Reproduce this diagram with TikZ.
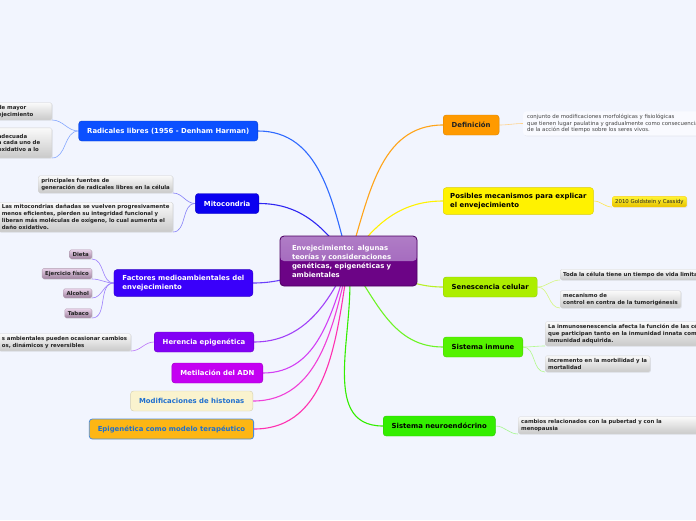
\documentclass[tikz,border=0pt]{standalone}
\usepackage{fontspec}
\setmainfont{DejaVu Sans}
\usepackage{tikz}
\usetikzlibrary{backgrounds,shadows}
\definecolor{pagebg}{HTML}{F2F5FE}
\definecolor{hubtop}{HTML}{9C5CB8}
\definecolor{hubbot}{HTML}{6C0486}
\definecolor{hubedge}{HTML}{4B0060}
\definecolor{radblue}{HTML}{0B50FF}
\definecolor{mitblue}{HTML}{0A00F0}
\definecolor{facviolet}{HTML}{3A00FA}
\definecolor{herviolet}{HTML}{8200F5}
\definecolor{metviolet}{HTML}{C400F2}
\definecolor{hisfill}{HTML}{FAF3CE}
\definecolor{hispink}{HTML}{F040D8}
\definecolor{epipink}{HTML}{FF30B0}
\definecolor{bluetext}{HTML}{1F6FCF}
\definecolor{epifill}{HTML}{FDB614}
\definecolor{deforange}{HTML}{FF9A00}
\definecolor{posyellow}{HTML}{FFF200}
\definecolor{senlime}{HTML}{ACEE00}
\definecolor{inmgreen}{HTML}{55F200}
\definecolor{neugreen}{HTML}{33EE00}
\definecolor{leaftext}{HTML}{222222}
\newcommand{\hubfont}{\fontsize{6.9}{9}\selectfont\bfseries}
\newcommand{\topicfont}{\fontsize{6.9}{9}\selectfont\bfseries}
\newcommand{\leaffont}{\fontsize{5.4}{6.8}\selectfont}
\tikzset{
  hub/.style={rounded corners=4pt, fill=hubbot, draw=hubedge, line width=0.8pt,
    minimum width=137pt, minimum height=50pt, text width=113pt, inner xsep=12pt,
    align=left, text=white, font=\hubfont,
    path picture={\shade[top color=hubtop!80!white, bottom color=hubtop]
      (path picture bounding box.north west) rectangle (path picture bounding box.east);}},
  topic/.style={rounded corners=3pt, inner xsep=8.5pt, inner ysep=5.5pt,
    minimum height=20pt, align=left, font=\topicfont, line width=0.4pt},
  leaf/.style={rounded corners=1.5pt, top color=gray!4, bottom color=gray!42,
    draw=gray!35, line width=0.3pt, inner xsep=3pt, inner ysep=2.5pt, align=left,
    font=\leaffont\bfseries, text=leaftext,
    drop shadow={opacity=0.18, shadow xshift=0.8pt, shadow yshift=-0.8pt}},
  fleaf/.style={leaf, top color=violet!18!white, bottom color=violet!30!gray!75, draw=violet!25!gray!60},
  yleaf/.style={leaf, top color=posyellow!80!white, bottom color=posyellow!75!orange!90!black,
    draw=posyellow!70!orange, font=\leaffont},
  dleaf/.style={rounded corners=3pt, fill=white!55!pagebg, inner xsep=4pt, inner ysep=2.5pt,
    align=left, font=\leaffont, text=leaftext!85,
    drop shadow={opacity=0.12, shadow xshift=0.8pt, shadow yshift=-0.8pt}},
  link/.style={line width=1.1pt},
  twig/.style={line width=0.6pt}
}
\begin{document}
\begin{tikzpicture}[x=1pt,y=1pt]
\useasboundingbox (0,0) rectangle (696,-520);
% centre
\node[hub] (hub) at (348.5,-261) {Envejecimiento: algunas\\teorías y consideraciones\\genéticas, epigenéticas y\\ambientales};
% left branches
\node[topic, anchor=east, fill=radblue, draw=radblue!80!black, text=white] (rad) at (258,-131) {Radicales libres (1956 - Denham Harman)};
\node[topic, anchor=east, fill=mitblue, draw=mitblue!80!black, text=white] (mit) at (259,-203.5) {Mitocondria};
\node[topic, anchor=east, fill=facviolet, draw=facviolet!80!black, text=white] (fac) at (253,-283) {Factores medioambientales del\\envejecimiento};
\node[topic, anchor=east, fill=herviolet, draw=herviolet!80!black, text=white] (her) at (254,-342) {Herencia epigenética};
\node[topic, anchor=east, fill=metviolet, draw=metviolet!80!black, text=white] (met) at (263,-373) {Metilación del ADN};
\node[topic, anchor=east, fill=hisfill, draw=hisfill!85!black, text=bluetext] (his) at (253,-401) {Modificaciones de histonas};
\node[topic, anchor=east, fill=epifill, draw=bluetext!80, line width=0.8pt, text=bluetext] (epi) at (254,-429) {Epigenética como modelo terapéutico};
% right branches
\node[topic, anchor=west, fill=deforange, draw=deforange!85!black, text=leaftext] (def) at (443,-125) {Definición};
\node[topic, anchor=west, fill=posyellow, draw=posyellow!85!black, text=black, inner xsep=7pt] (pos) at (443,-201) {Posibles mecanismos para explicar\\el envejecimiento};
\node[topic, anchor=west, fill=senlime, draw=senlime!85!black, text=black] (sen) at (443,-287) {Senescencia celular};
\node[topic, anchor=west, fill=inmgreen, draw=inmgreen!85!black, text=black] (inm) at (443,-347) {Sistema inmune};
\node[topic, anchor=west, fill=neugreen, draw=neugreen!85!black, text=black] (neu) at (383,-426) {Sistema neuroendócrino};
% leaves, left
\node[leaf, anchor=south east, text width=51pt] (rad1) at (52,-120) {de mayor\\ejecimiento};
\node[leaf, anchor=south east, text width=51pt, minimum height=30pt] (rad2) at (52,-158) {adecuada\\a cada uno de\\oxidativo a lo};
\node[leaf, anchor=south east] (mit1) at (173,-193) {principales fuentes de\\generación de radicales libres en la célula};
\node[leaf, anchor=south east, text width=168pt] (mit2) at (173,-232) {Las mitocondrias dañadas se vuelven progresivamente\\menos eficientes, pierden su integridad funcional y\\liberan más moléculas de oxígeno, lo cual aumenta el\\daño oxidativo.};
\node[fleaf, anchor=south east] (fac1) at (92,-259) {Dieta};
\node[fleaf, anchor=south east] (fac2) at (92,-279) {Ejercicio físico};
\node[fleaf, anchor=south east] (fac3) at (92,-298) {Alcohol};
\node[fleaf, anchor=south east] (fac4) at (92,-318) {Tabaco};
\node[leaf, anchor=south east, text width=126pt] (her1) at (131,-351) {s ambientales pueden ocasionar cambios\\os, dinámicos y reversibles};
% leaves, right
\node[dleaf, anchor=west] (def1) at (523,-123.5) {conjunto de modificaciones morfológicas y fisiológicas\\que tienen lugar paulatina y gradualmente como consecuencia\\de la acción del tiempo sobre los seres vivos.};
\node[yleaf, anchor=south west] (pos1) at (612,-207) {2010 Goldstein y Cassidy};
\node[leaf, anchor=south west, text width=190pt] (sen1) at (560,-280) {Toda la célula tiene un tiempo de vida limitado};
\node[leaf, anchor=south west] (sen2) at (560,-308) {mecanismo de\\control en contra de la tumorigénesis};
\node[leaf, anchor=south west, text width=190pt] (inm1) at (545,-346) {La inmunosenescencia afecta la función de las células\\que participan tanto en la inmunidad innata como\\inmunidad adquirida.};
\node[leaf, anchor=south west] (inm2) at (545,-372) {incremento en la morbilidad y la\\mortalidad};
\node[leaf, anchor=south west, text width=190pt] (neu1) at (518,-434) {cambios relacionados con la pubertad y con la\\menopausia};
% connectors
\begin{scope}[on background layer]
\fill[pagebg] (0,0) rectangle (696,-520);
\draw[link, radblue!85] (hub.center) to[out=105,in=0] (rad.east);
\draw[link, mitblue!85] (hub.center) to[out=125,in=0] (mit.east);
\draw[link, facviolet!75] (hub.center) to[out=190,in=0] (fac.east);
\draw[link, herviolet!75] (hub.center) to[out=245,in=0] (her.east);
\draw[link, metviolet!75] (hub.center) to[out=252,in=0] (met.east);
\draw[link, hispink] (hub.center) to[out=257,in=0] (his.east);
\draw[link, epipink] (hub.center) to[out=261,in=0] (epi.east);
\draw[link, deforange!90] (hub.center) to[out=72,in=180] (def.west);
\draw[link, posyellow] (hub.center) to[out=55,in=180] (pos.west);
\draw[link, senlime!85] (hub.center) to[out=-10,in=180] (sen.west);
\draw[link, inmgreen!85] (hub.center) to[out=-55,in=180] (inm.west);
\draw[link, neugreen] (hub.center) to[out=-82,in=180] (neu.west);
\draw[twig, radblue!50] (rad.west) to[out=180,in=0] (rad1.south east);
\draw[twig, radblue!50] (rad.west) to[out=180,in=0] (rad2.south east);
\draw[twig, mitblue!50] (mit.west) to[out=180,in=0] (mit1.south east);
\draw[twig, mitblue!50] (mit.west) to[out=180,in=0] (mit2.south east);
\foreach \k in {1,...,4}
  \draw[twig, facviolet!50] (fac.west) to[out=180,in=0] (fac\k.south east);
\draw[twig, herviolet!55] (her.west) to[out=180,in=0] (her1.south east);
\draw[twig, deforange!45] (def.east) to[out=0,in=180] (def1.west);
\draw[twig, posyellow!80!orange!70] (pos.east) to[out=0,in=180] (pos1.south west);
\draw[twig, senlime!50] (sen.east) to[out=0,in=180] (sen1.south west);
\draw[twig, senlime!50] (sen.east) to[out=0,in=180] (sen2.south west);
\draw[twig, inmgreen!45] (inm.east) to[out=0,in=180] (inm1.south west);
\draw[twig, inmgreen!45] (inm.east) to[out=0,in=180] (inm2.south west);
\draw[twig, neugreen!45] (neu.east) to[out=0,in=180] (neu1.south west);
\end{scope}
\end{tikzpicture}
\end{document}
